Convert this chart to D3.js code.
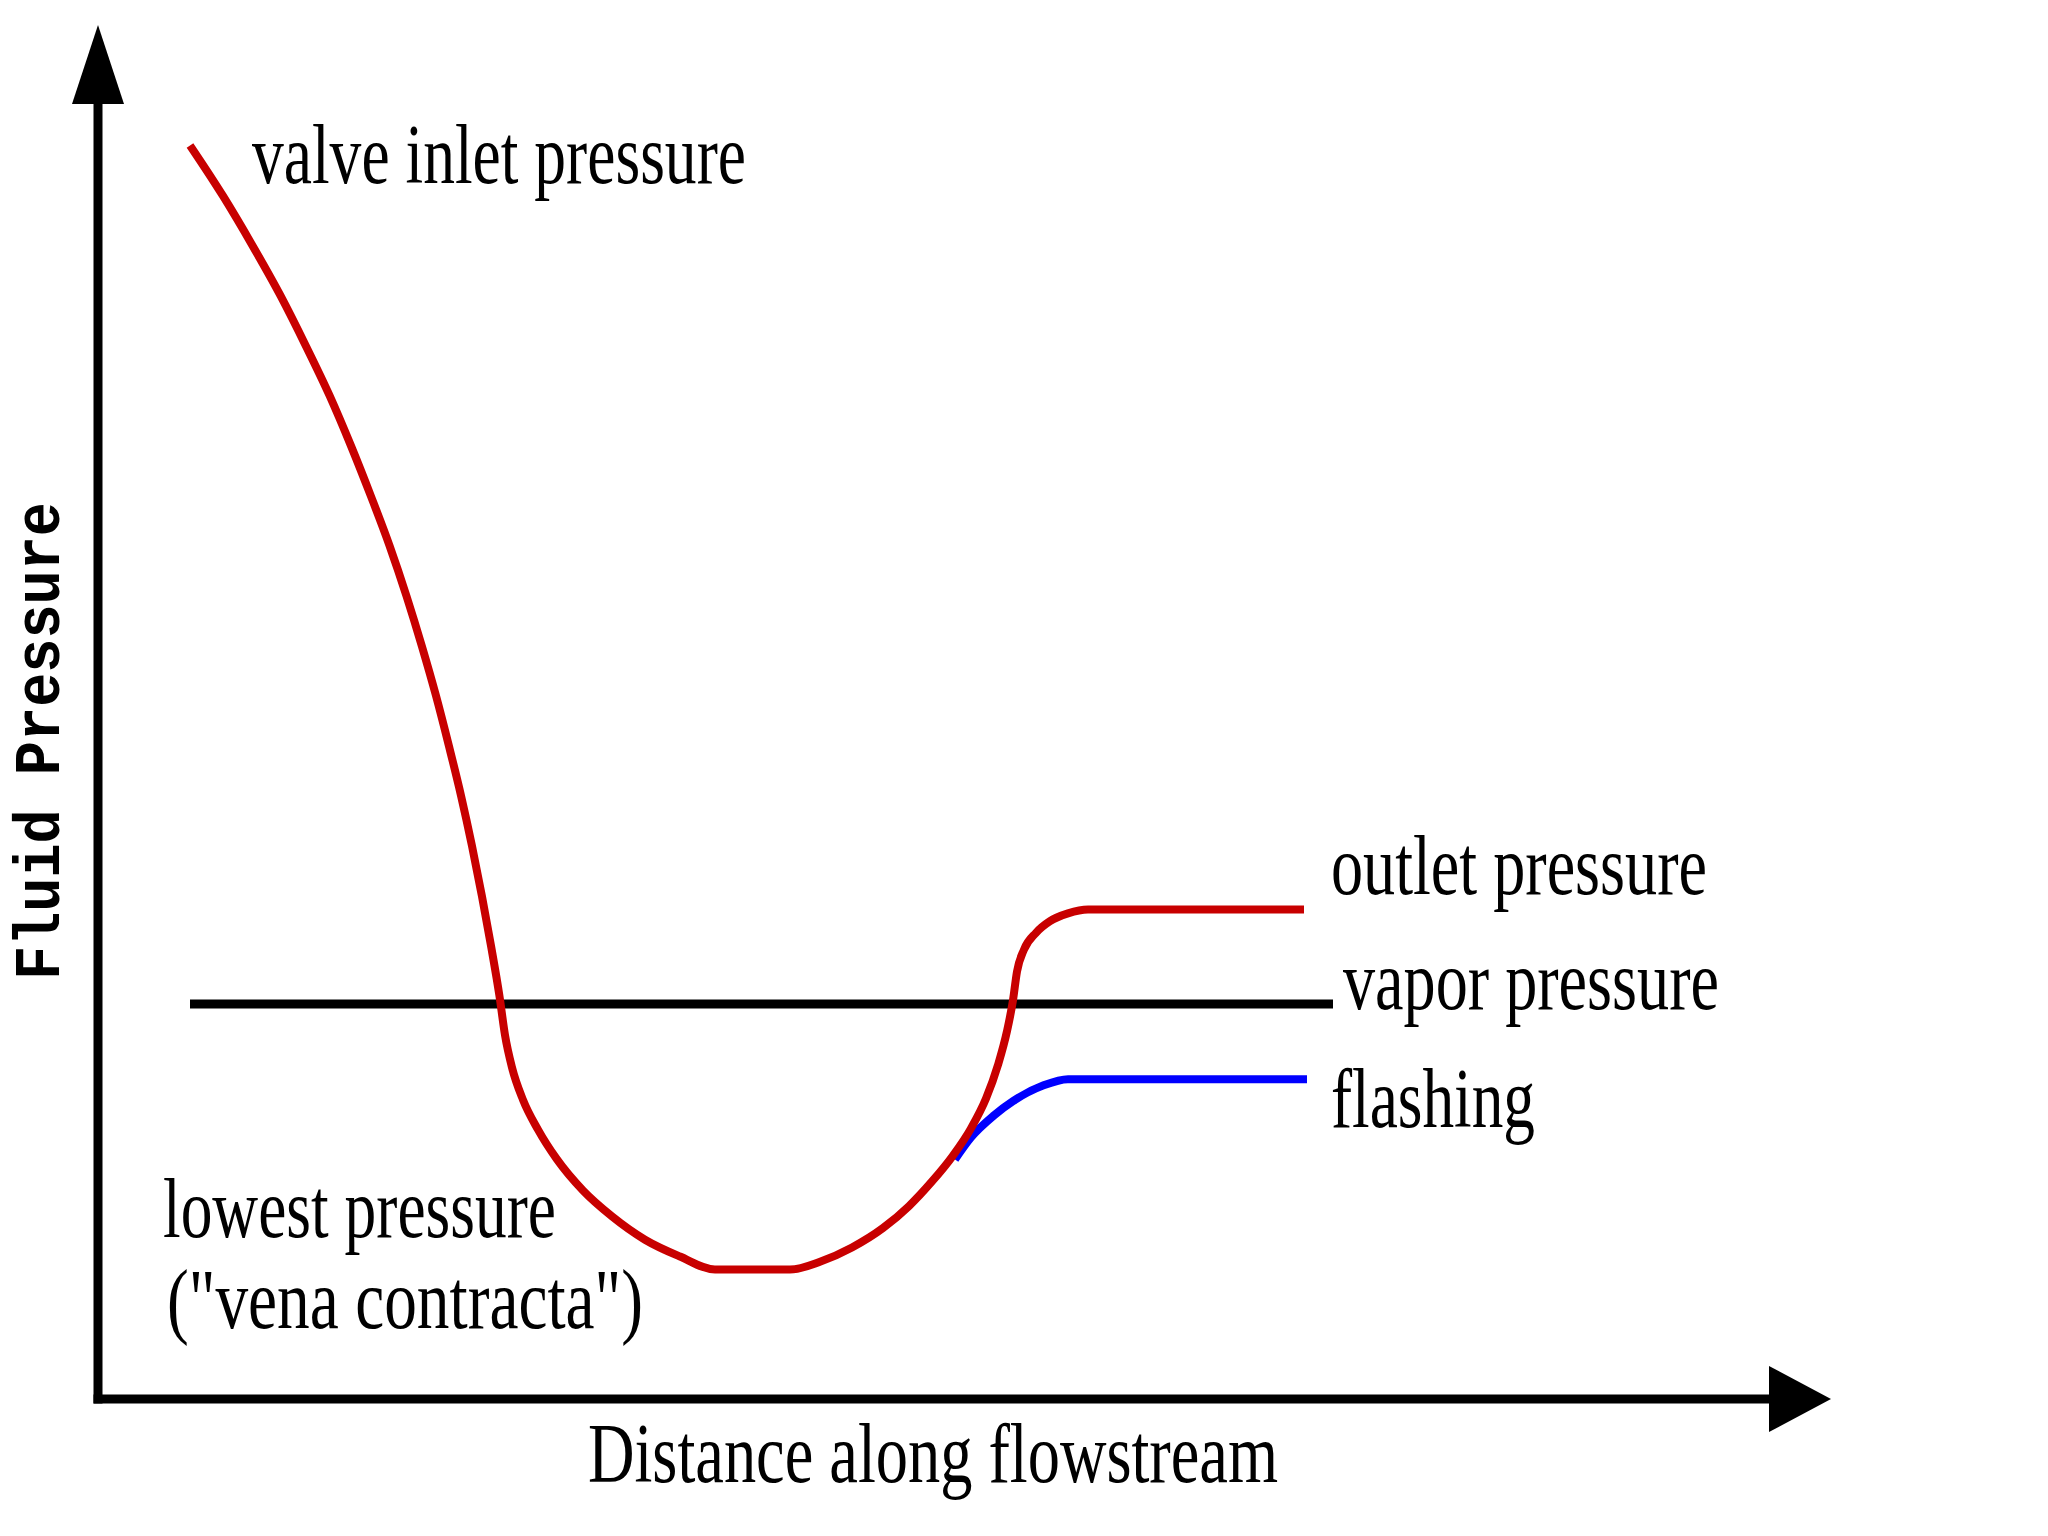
<!DOCTYPE html>
<html>
<head>
<meta charset="utf-8">
<script src="https://cdn.jsdelivr.net/npm/d3@7"></script>
<style>
  html, body { margin: 0; padding: 0; background: #fff; }
  svg { display: block; }
</style>
</head>
<body>
<div id="chart"></div>
<script>
// # DATA
// # ------------------------------
// distance along flowstream (arbitrary units) and fluid pressure (arbitrary units)
var valve_x = [9.2, 12.5, 15.5, 18.25, 20.8, 23.15, 25.3, 27.3, 29.15, 30.85, 32.4, 33.8, 35.1, 36.3, 37.4,
               38.4, 39.3, 40.15, 40.7, 41.4, 42.5, 44.0, 45.9, 48.5, 51.4, 54.7, 58.2, 61.7,
               69.2, 72.2, 75.4, 78.5, 81.1, 83.4, 85.5, 87.3, 88.8, 90.0, 90.9, 91.5, 91.9, 92.6, 93.8,
               95.2, 97.0, 99.0, 120.6];
var valve_p = [96.8, 92.9, 89.0, 85.2, 81.3, 77.5, 73.6, 69.7, 65.9, 62.0, 58.1, 54.3, 50.4, 46.6, 42.7,
               38.8, 35.0, 31.1, 28.1, 25.6, 23.1, 20.8, 18.5, 16.1, 14.1, 12.3, 11.0, 10.0,
               10.0, 10.6, 11.7, 13.2, 14.9, 16.8, 18.8, 20.9, 23.2, 25.8, 28.4, 30.8, 33.0, 34.7, 36.0,
               36.9, 37.5, 37.8, 37.8];

var flash_x = [85.7, 87.3, 89.6, 91.5, 94.5, 97.0, 99.2, 120.9];
var flash_p = [18.5, 20.2, 21.9, 23.0, 24.2, 24.7, 24.7, 24.7];

var vapor_x = [9.2, 123.5];
var vapor_p = [30.5, 30.5];

var labels = [
  {text: "valve inlet pressure", x: 15.4, p: 93.9, len: 494},
  {text: "outlet pressure",      x: 123.3, p: 39.0, len: 376},
  {text: "vapor pressure",       x: 124.5, p: 30.1, len: 376},
  {text: "flashing",             x: 123.3, p: 21.0, len: 204},
  {text: "lowest pressure",      x: 6.5,  p: 12.5, len: 393},
  {text: "(\"vena contracta\")", x: 6.9,  p: 5.5,  len: 476}
];

var x_title = "Distance along flowstream";
var y_title = "Fluid Pressure";

// # SCALES
// # ------------------------------
var width  = 2048,
    height = 1536;

var x = d3.scaleLinear().domain([0, 167]).range([98, 1768]);
var y = d3.scaleLinear().domain([0, 100]).range([1399, 104]);

var svg = d3.select("#chart").append("svg")
    .attr("width", width)
    .attr("height", height)
    .style("background", "#fff");

var zip = function(xs, ps) {
  return xs.map(function(d, i) { return [d, ps[i]]; });
};

var line = d3.line()
    .x(function(d) { return x(d[0]); })
    .y(function(d) { return y(d[1]); })
    .curve(d3.curveMonotoneX);

// # AXES (arrows only, no ticks)
// # ------------------------------
var axis_w = 9;

svg.append("line")
    .attr("x1", x(0)).attr("x2", x(0))
    .attr("y1", y(0) + axis_w / 2).attr("y2", y(100))
    .attr("stroke", "#000").attr("stroke-width", axis_w);

svg.append("path")
    .attr("d", "M" + x(0) + "," + (y(100) - 79) +
               "L" + (x(0) + 26) + "," + y(100) +
               "L" + (x(0) - 26) + "," + y(100) + "Z")
    .attr("fill", "#000");

svg.append("line")
    .attr("x1", x(0) - axis_w / 2).attr("x2", x(167) + 1)
    .attr("y1", y(0)).attr("y2", y(0))
    .attr("stroke", "#000").attr("stroke-width", axis_w);

svg.append("path")
    .attr("d", "M" + (x(167) + 63) + "," + y(0) +
               "L" + (x(167) + 1) + "," + (y(0) - 33) +
               "L" + (x(167) + 1) + "," + (y(0) + 33) + "Z")
    .attr("fill", "#000");

// # LINES
// # ------------------------------
svg.append("path")
    .datum(zip(vapor_x, vapor_p))
    .attr("d", d3.line().x(function(d) { return x(d[0]); }).y(function(d) { return y(d[1]); }))
    .attr("fill", "none")
    .attr("stroke", "#000")
    .attr("stroke-width", 9);

svg.append("path")
    .datum(zip(flash_x, flash_p))
    .attr("d", line)
    .attr("fill", "none")
    .attr("stroke", "#0000ff")
    .attr("stroke-width", 8);

svg.append("path")
    .datum(zip(valve_x, valve_p))
    .attr("d", line)
    .attr("fill", "none")
    .attr("stroke", "#c80000")
    .attr("stroke-width", 8);

// # TEXT
// # ------------------------------
svg.selectAll(".label")
    .data(labels)
    .enter()
    .append("text")
    .attr("class", "label")
    .attr("x", function(d) { return x(d.x); })
    .attr("y", function(d) { return y(d.p); })
    .attr("textLength", function(d) { return d.len; })
    .attr("lengthAdjust", "spacingAndGlyphs")
    .style("font-family", "'Liberation Serif', 'DejaVu Serif', serif")
    .style("font-size", "85px")
    .style("fill", "#000")
    .text(function(d) { return d.text; });

svg.append("text")
    .attr("x", 588)
    .attr("y", 1482)
    .attr("textLength", 690)
    .attr("lengthAdjust", "spacingAndGlyphs")
    .style("font-family", "'Liberation Serif', 'DejaVu Serif', serif")
    .style("font-size", "85px")
    .text(x_title);

svg.append("text")
    .attr("transform", "translate(59,741) rotate(-90)")
    .attr("text-anchor", "middle")
    .attr("textLength", 478)
    .attr("lengthAdjust", "spacingAndGlyphs")
    .style("font-family", "'Liberation Mono', 'DejaVu Sans Mono', monospace")
    .style("font-weight", "bold")
    .style("font-size", "64px")
    .text(y_title);
</script>
</body>
</html>
